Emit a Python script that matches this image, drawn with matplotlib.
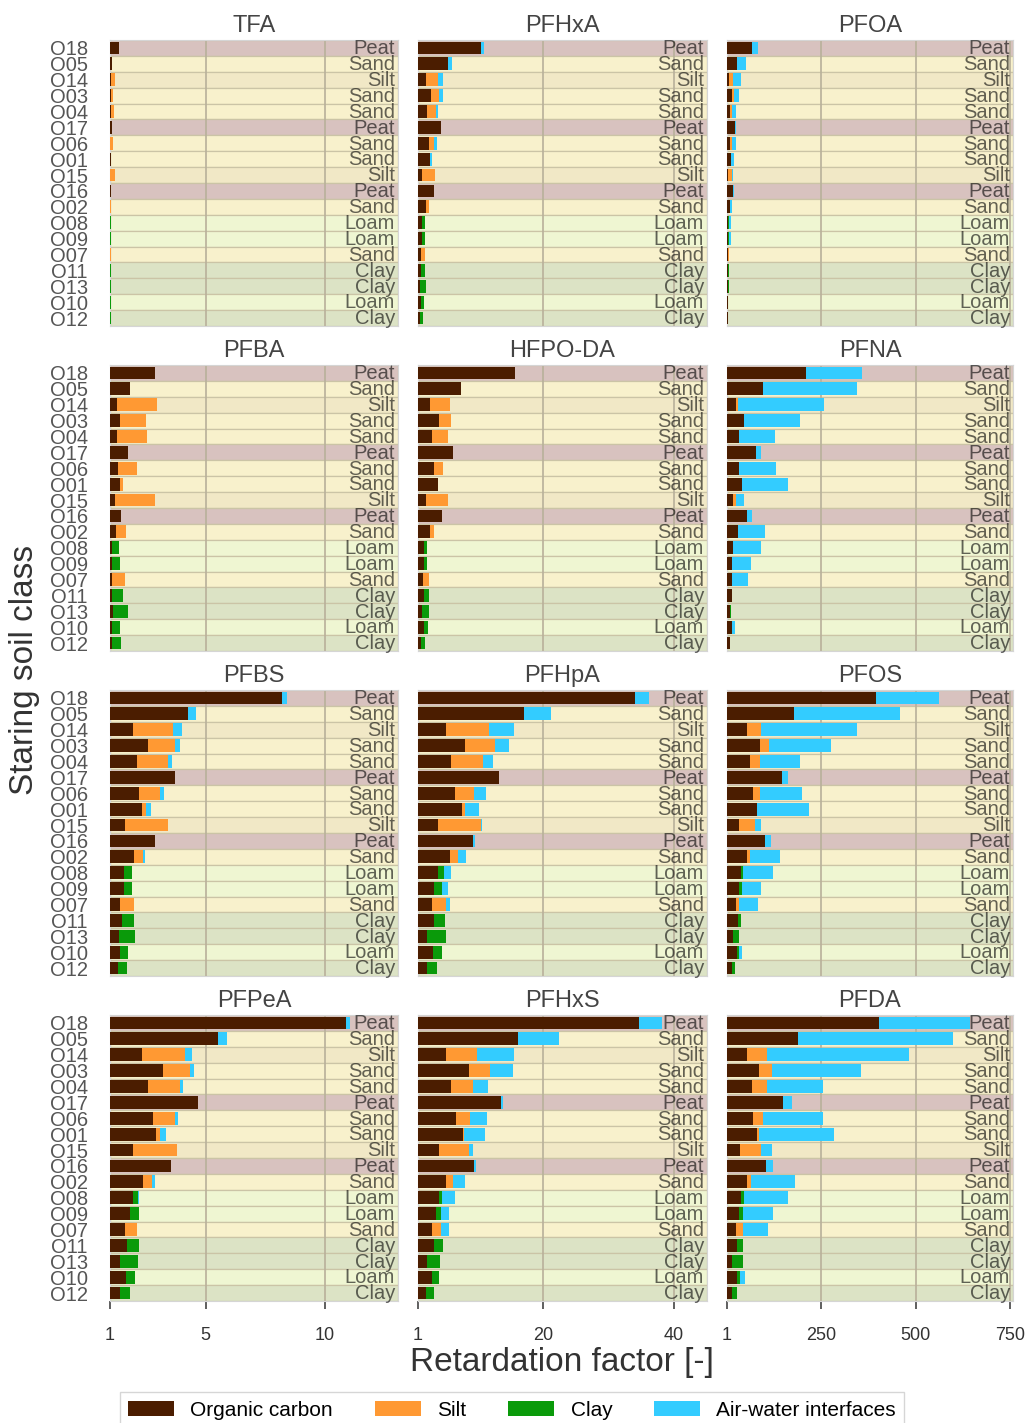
import matplotlib
matplotlib.use('Agg')
import matplotlib.pyplot as plt
from matplotlib.patches import Patch
from matplotlib.transforms import blended_transform_factory

plt.rcParams['font.family'] = ['Liberation Sans', 'DejaVu Sans']

# Soil classes (top to bottom) and their texture
soils = ['O18', 'O05', 'O14', 'O03', 'O04', 'O17', 'O06', 'O01', 'O15',
         'O16', 'O02', 'O08', 'O09', 'O07', 'O11', 'O13', 'O10', 'O12']
textures = ['Peat', 'Sand', 'Silt', 'Sand', 'Sand', 'Peat', 'Sand', 'Sand', 'Silt',
            'Peat', 'Sand', 'Loam', 'Loam', 'Sand', 'Clay', 'Clay', 'Loam', 'Clay']

compounds = ['TFA', 'PFHxA', 'PFOA',
             'PFBA', 'HFPO-DA', 'PFNA',
             'PFBS', 'PFHpA', 'PFOS',
             'PFPeA', 'PFHxS', 'PFDA']

# Contributions to the retardation factor (R = 1 + sum of contributions)
oc = {
    'TFA':     [0.38, 0.1, 0.03, 0.03, 0.03, 0.1, 0.02, 0.03, 0.02, 0.06, 0.02, 0.02, 0.02, 0.01, 0.01, 0.01, 0.01, 0.01],
    'PFHxA':   [9.6, 4.6, 1.2, 2.0, 1.4, 3.55, 1.6, 1.8, 0.65, 2.4, 1.2, 0.65, 0.65, 0.4, 0.45, 0.35, 0.45, 0.25],
    'PFOA':    [65, 27, 5, 14, 7, 21, 7, 10.5, 3.5, 16, 7, 3.5, 3.5, 2.6, 2.6, 1.7, 2.6, 1.7],
    'PFBA':    [1.88, 0.84, 0.28, 0.42, 0.28, 0.74, 0.35, 0.42, 0.2, 0.45, 0.25, 0.1, 0.1, 0.1, 0.1, 0.14, 0.1, 0.1],
    'HFPO-DA': [14.7, 6.5, 1.8, 3.2, 2.2, 5.3, 2.4, 3.1, 1.2, 3.7, 1.8, 0.9, 0.9, 0.75, 0.95, 0.65, 0.95, 0.45],
    'PFNA':    [208, 94, 23, 45, 33, 77, 33, 40, 17, 53, 28, 17, 14, 12, 14, 7, 14, 9],
    'PFBS':    [7.18, 3.28, 0.95, 1.6, 1.14, 2.72, 1.23, 1.32, 0.63, 1.88, 1.0, 0.6, 0.6, 0.42, 0.49, 0.36, 0.42, 0.33],
    'PFHpA':   [33.1, 16.1, 4.2, 7.1, 5.1, 12.3, 5.7, 6.75, 3.05, 8.4, 4.8, 3.05, 2.5, 2.2, 2.45, 1.4, 2.3, 1.4],
    'PFOS':    [393, 176, 52, 87, 62, 145, 69, 78, 33, 100, 52, 36, 31, 23, 30, 17, 27, 14],
    'PFPeA':   [9.86, 4.53, 1.32, 2.2, 1.58, 3.67, 1.79, 1.92, 0.95, 2.54, 1.37, 0.95, 0.84, 0.63, 0.7, 0.42, 0.67, 0.42],
    'PFHxS':   [33.6, 15.2, 4.2, 7.7, 5.0, 12.7, 5.8, 6.8, 3.2, 8.6, 4.2, 3.2, 2.7, 2.1, 2.45, 1.4, 2.2, 1.2],
    'PFDA':    [403, 188, 52, 85, 65, 147, 70, 78, 34, 103, 52, 36, 32, 23, 26, 14, 26, 12],
}
silt = {
    'TFA':     [0, 0, 0.2, 0.1, 0.12, 0, 0.1, 0.03, 0.2, 0, 0.03, 0, 0, 0.03, 0, 0, 0, 0],
    'PFHxA':   [0, 0, 1.8, 1.2, 1.3, 0, 0.9, 0, 1.9, 0, 0.4, 0, 0, 0.65, 0, 0, 0, 0],
    'PFOA':    [0, 0, 11, 5, 7, 0, 7, 0, 10.5, 0, 0, 0, 0, 2, 0, 0, 0, 0],
    'PFBA':    [0, 0, 1.67, 1.07, 1.25, 0, 0.8, 0.14, 1.67, 0, 0.4, 0, 0, 0.52, 0, 0, 0, 0],
    'HFPO-DA': [0, 0, 3.1, 1.9, 2.4, 0, 1.4, 0, 3.3, 0, 0.65, 0, 0, 1.0, 0, 0, 0, 0],
    'PFNA':    [0, 0, 7, 0, 0, 0, 0, 0, 8, 0, 0, 0, 0, 2, 0, 0, 0, 0],
    'PFBS':    [0, 0, 1.7, 1.12, 1.3, 0, 0.86, 0.18, 1.79, 0, 0.36, 0, 0, 0.59, 0, 0, 0, 0],
    'PFHpA':   [0, 0, 6.6, 4.6, 4.8, 0, 2.9, 0.4, 6.5, 0, 1.3, 0, 0, 2.0, 0, 0, 0, 0],
    'PFOS':    [0, 0, 37, 24, 26, 0, 19, 0, 40, 0, 9, 0, 0, 9, 0, 0, 0, 0],
    'PFPeA':   [0, 0, 1.81, 1.14, 1.35, 0, 0.93, 0.17, 1.84, 0, 0.38, 0, 0, 0.52, 0, 0, 0, 0],
    'PFHxS':   [0, 0, 4.8, 3.2, 3.4, 0, 2.1, 0.25, 4.6, 0, 1.1, 0, 0, 1.4, 0, 0, 0, 0],
    'PFDA':    [0, 0, 53, 34, 40, 0, 24, 7, 56, 0, 12, 0, 0, 18, 0, 0, 0, 0],
}
clay = {
    'TFA':     [0, 0, 0, 0, 0, 0, 0, 0, 0, 0, 0, 0.02, 0.02, 0, 0.03, 0.04, 0.02, 0.03],
    'PFHxA':   [0, 0, 0, 0, 0, 0, 0, 0, 0, 0, 0, 0.4, 0.4, 0, 0.6, 0.8, 0.4, 0.5],
    'PFOA':    [0, 0, 0, 0, 0, 0, 0, 0, 0, 0, 0, 2, 2, 0, 2.6, 3.5, 0, 1.7],
    'PFBA':    [0, 0, 0, 0, 0, 0, 0, 0, 0, 0, 0, 0.28, 0.3, 0, 0.45, 0.63, 0.3, 0.35],
    'HFPO-DA': [0, 0, 0, 0, 0, 0, 0, 0, 0, 0, 0, 0.5, 0.5, 0, 0.8, 1.1, 0.5, 0.6],
    'PFNA':    [0, 0, 0, 0, 0, 0, 0, 0, 0, 0, 0, 0, 0, 0, 0, 3.5, 0, 0],
    'PFBS':    [0, 0, 0, 0, 0, 0, 0, 0, 0, 0, 0, 0.3, 0.32, 0, 0.52, 0.68, 0.35, 0.4],
    'PFHpA':   [0, 0, 0, 0, 0, 0, 0, 0, 0, 0, 0, 0.9, 1.2, 0, 1.6, 2.9, 1.3, 1.5],
    'PFOS':    [0, 0, 0, 0, 0, 0, 0, 0, 0, 0, 0, 7, 9, 0, 8, 15, 6, 6],
    'PFPeA':   [0, 0, 0, 0, 0, 0, 0, 0, 0, 0, 0, 0.21, 0.38, 0, 0.52, 0.77, 0.38, 0.42],
    'PFHxS':   [0, 0, 0, 0, 0, 0, 0, 0, 0, 0, 0, 0.5, 0.8, 0, 1.4, 2.0, 1.0, 1.3],
    'PFDA':    [0, 0, 0, 0, 0, 0, 0, 0, 0, 0, 0, 9, 11.5, 0, 15, 27, 8, 15],
}
aw = {
    'TFA':     [0] * 18,
    'PFHxA':   [0.5, 0.6, 0.75, 0.6, 0.4, 0, 0.4, 0.4, 0, 0, 0.15, 0, 0, 0, 0, 0, 0, 0],
    'PFOA':    [17.5, 23.6, 22, 12, 10.5, 2, 9, 9, 2, 2, 7, 5, 5, 2, 0, 0, 1, 0],
    'PFBA':    [0] * 18,
    'HFPO-DA': [0] * 18,
    'PFNA':    [149, 250, 227, 147, 93, 14, 96, 121, 20, 13, 73, 72, 49, 42, 0, 0, 7, 0],
    'PFBS':    [0.21, 0.32, 0.35, 0.21, 0.14, 0, 0.17, 0.2, 0, 0, 0.1, 0.04, 0, 0, 0, 0, 0, 0],
    'PFHpA':   [2.1, 4.1, 3.8, 2.2, 1.5, 0, 1.7, 2.1, 0.2, 0.3, 1.2, 1.1, 0.85, 0.65, 0, 0, 0, 0],
    'PFOS':    [168, 280, 255, 164, 105, 17.5, 111, 139, 17.5, 15, 79, 78, 51, 50, 0, 0, 7, 0],
    'PFPeA':   [0.18, 0.35, 0.32, 0.17, 0.14, 0, 0.14, 0.24, 0, 0, 0.14, 0.07, 0, 0, 0, 0, 0, 0],
    'PFHxS':   [3.6, 6.2, 5.6, 3.5, 2.3, 0.25, 2.6, 3.1, 0.5, 0.25, 1.8, 1.9, 1.2, 1.2, 0, 0, 0, 0],
    'PFDA':    [239, 410, 375, 236, 150, 25, 159, 197, 29, 19, 115, 115, 78, 68, 0, 0, 13, 0],
}

col_xlim = [(1, 13.05), (1, 45), (1, 757)]
col_ticks = [[1, 5, 10], [1, 20, 40], [1, 250, 500, 750]]

band_colors = {'Peat': '#d8c2bf', 'Sand': '#f8f1cc', 'Silt': '#f1e8c6',
               'Loam': '#eff6d2', 'Clay': '#dce3c5'}
comp_colors = ['#4b1d00', '#ff9933', '#0a9a0a', '#33ccff']
comp_names = ['Organic carbon', 'Silt', 'Clay', 'Air-water interfaces']

W, H = 1032, 1423
fig = plt.figure(figsize=(W / 100, H / 100), dpi=100)

col_left = [110, 418, 727]
col_width = [288, 289, 286]
row_top = [40, 365, 690, 1015]
row_h = 286

for k, comp in enumerate(compounds):
    r, c = divmod(k, 3)
    ax = fig.add_axes([col_left[c] / W, 1 - (row_top[r] + row_h) / H,
                       col_width[c] / W, row_h / H])
    n = len(soils)
    y = list(range(n))

    # texture background bands
    for i, tex in enumerate(textures):
        ax.axhspan(i - 0.5, i + 0.5, facecolor=band_colors[tex],
                   edgecolor='#cbc4a6', linewidth=0.9, zorder=0)

    for xv in col_ticks[c][1:]:
        ax.axvline(xv, color='#b8b09a', linewidth=1.2, zorder=1)

    left = [1.0] * n
    for vals, col in zip([oc[comp], silt[comp], clay[comp], aw[comp]], comp_colors):
        ax.barh(y, vals, left=left, height=0.8, color=col, zorder=3)
        left = [a + b for a, b in zip(left, vals)]

    trans = blended_transform_factory(ax.transAxes, ax.transData)
    for i, tex in enumerate(textures):
        ax.text(0.99, i + 0.05, tex, transform=trans, ha='right', va='center',
                fontsize=14.5, color='black', alpha=0.6, zorder=4)

    ax.set_xlim(*col_xlim[c])
    ax.set_ylim(n - 0.5, -0.5)
    ax.set_xticks(col_ticks[c])
    ax.set_title(comp, fontsize=17, color='#444444', pad=6)

    ax.set_yticks(y)
    if c == 0:
        ax.set_yticklabels(soils, fontsize=14.5, color='#555555')
        ax.tick_params(axis='y', length=0, pad=16)
    else:
        ax.tick_params(axis='y', length=0, labelleft=False)

    if r == 3:
        ax.tick_params(axis='x', length=6, width=1.2, color='#444444',
                       labelsize=13, labelcolor='#333333', pad=13)
    else:
        ax.tick_params(axis='x', length=0, labelbottom=False)

    for sp in ax.spines.values():
        sp.set_color('#d5d5d5')
        sp.set_linewidth(0.8)

fig.text(562 / W, 1 - 1363 / H, 'Retardation factor [-]', ha='center', va='center',
         fontsize=24, color='#333333')
fig.text(25 / W, 1 - 670 / H, 'Staring soil class', ha='center', va='center',
         rotation=90, fontsize=24, color='#333333')

handles = [Patch(facecolor=col) for col in comp_colors]
fig.legend(handles, comp_names, loc='upper center', bbox_to_anchor=(512 / W, 1 - 1382 / H),
           ncol=4, fontsize=15, handlelength=2.2, handleheight=0.7,
           columnspacing=2.0, frameon=True, edgecolor='#cccccc', fancybox=False,
           borderpad=0.4)

fig.savefig('out.png', dpi=100)
